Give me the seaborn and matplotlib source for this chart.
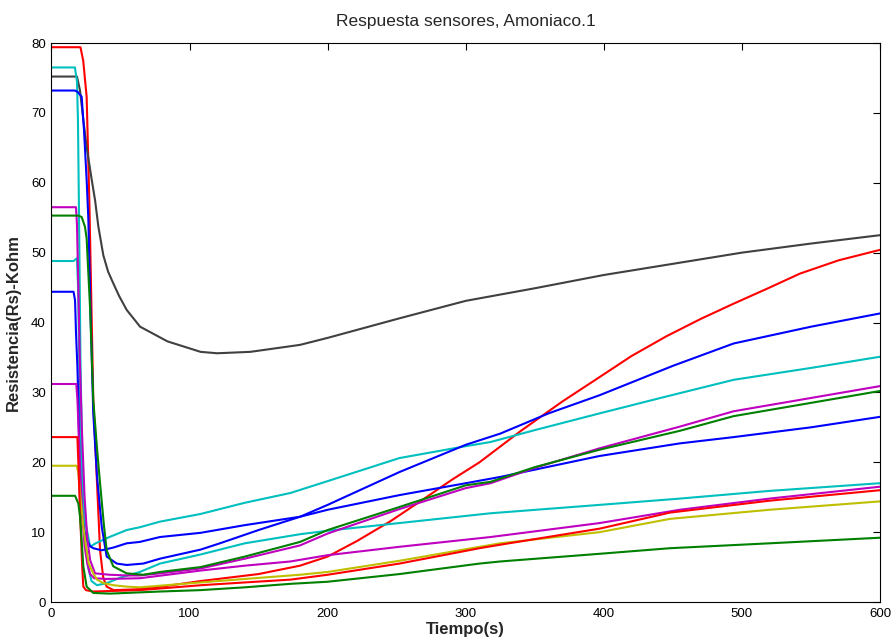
import matplotlib
matplotlib.use("Agg")
import matplotlib.pyplot as plt
import pandas as pd
import seaborn as sns

# ---------------- data ----------------
t_red_a = [0, 21, 23, 25.5, 27.5, 30.3, 35.2, 37.5, 40, 45, 60, 80, 108, 150, 180, 200, 221, 245, 267, 290,
           310, 340, 370, 397, 420, 445, 470, 494, 520, 542, 570, 600]
r_red_a = [79.4, 79.4, 77.5, 72.3, 57.0, 28.9, 7.4, 3.5, 2.2, 1.7, 1.8, 2.2, 3.0, 4.0, 5.2, 6.5, 8.7, 11.5, 14.4, 17.5,
           20.0, 24.5, 28.7, 32.2, 35.2, 38.0, 40.5, 42.7, 45.0, 47.0, 48.9, 50.4]

t_gray = [0, 18.5, 20.7, 23.1, 25.5, 29.2, 31.6, 34, 37.6, 41, 44.8, 49, 54.5, 64.2, 84, 108, 120, 144, 180, 200,
          252, 300, 350, 400, 450, 500, 550, 600]
r_gray = [75.2, 75.2, 73.2, 69.0, 65.1, 60.4, 57.5, 53.7, 49.6, 47.3, 45.6, 43.8, 41.8, 39.4, 37.3, 35.8, 35.6,
          35.8, 36.8, 37.8, 40.6, 43.1, 44.9, 46.8, 48.4, 50.0, 51.3, 52.5]

t_cyan_a = [0, 17, 18.5, 19.2, 20, 21, 22.5, 25, 28, 32, 42, 54.5, 64, 78.6, 108, 140, 173, 200, 252, 300, 318,
            350, 397, 443, 494, 550, 600]
r_cyan_a = [76.5, 76.5, 74.5, 69.0, 55.0, 35.0, 18.0, 11.0, 7.9, 8.4, 9.3, 10.3, 10.7, 11.5, 12.6, 14.2, 15.6,
            17.3, 20.6, 22.3, 22.9, 24.6, 27.0, 29.3, 31.8, 33.5, 35.1]

t_cyan_b = [0, 16, 18.5, 19.3, 20.5, 22, 24, 26.5, 29, 33, 40, 50, 64, 78.6, 108, 140, 180, 200, 252, 318, 397,
            455, 520, 600]
r_cyan_b = [48.8, 48.8, 49.2, 45.0, 30.0, 18.0, 10.0, 5.0, 3.0, 2.4, 2.7, 3.5, 4.3, 5.5, 6.8, 8.4, 9.7, 10.2,
            11.3, 12.7, 13.9, 14.8, 15.9, 17.0]

t_blue_a = [0, 17, 19, 21.9, 23.6, 25.5, 26.7, 28.5, 30.3, 33, 36.4, 40, 47.3, 54.5, 66.5, 78.6, 108, 122, 150,
            180, 200, 252, 300, 325, 360, 397, 450, 494, 550, 600]
r_blue_a = [73.2, 73.2, 73.0, 72.3, 67.5, 60.4, 55.0, 40.0, 27.0, 18.0, 10.8, 6.5, 5.5, 5.3, 5.5, 6.2, 7.5, 8.4,
            10.3, 12.2, 13.9, 18.6, 22.5, 24.1, 27.0, 29.6, 33.8, 37.0, 39.4, 41.3]

t_blue_b = [0, 16, 17.1, 17.8, 18.8, 19.5, 20.7, 22, 24, 25.5, 28, 30.3, 36.4, 45, 54.5, 64, 78.6, 108, 140,
            180, 200, 252, 300, 325, 397, 455, 494, 550, 600]
r_blue_b = [44.4, 44.4, 43.2, 38.5, 33.7, 28.9, 14.6, 12.5, 10.0, 8.9, 8.0, 7.7, 7.4, 7.8, 8.4, 8.6, 9.3, 9.9,
            11.0, 12.2, 13.2, 15.3, 17.0, 17.9, 20.9, 22.7, 23.6, 25.0, 26.5]

t_mag_a = [0, 17.8, 18.5, 19.5, 20.5, 22, 24, 26, 28, 31.6, 42, 55, 64, 78.6, 108, 140, 180, 200, 252, 300, 318,
           350, 397, 455, 494, 550, 600]
r_mag_a = [56.5, 56.5, 54.0, 45.0, 35.0, 25.0, 15.0, 9.0, 6.0, 4.1, 3.9, 3.8, 3.8, 4.1, 4.8, 6.2, 8.1, 9.8, 13.3,
           16.3, 17.0, 19.2, 22.0, 25.1, 27.3, 29.2, 30.9]

t_green_a = [0, 19.5, 21.9, 24.3, 25.5, 28, 30.3, 33, 35.2, 38, 40, 44.8, 54.5, 66.5, 78.6, 108, 140, 180, 200,
             252, 300, 318, 350, 397, 455, 494, 550, 600]
r_green_a = [55.3, 55.3, 55.1, 53.7, 52.0, 42.0, 28.9, 22.0, 17.0, 11.0, 7.4, 5.1, 4.1, 3.9, 4.3, 5.0, 6.5, 8.6,
             10.3, 13.6, 16.7, 17.2, 19.3, 21.8, 24.5, 26.6, 28.5, 30.2]

t_mag_b = [0, 18, 18.8, 19.8, 21, 22.5, 24, 26, 28, 31, 40, 64, 108, 140, 173, 200, 252, 318, 397, 455, 520, 600]
r_mag_b = [31.2, 31.2, 29.0, 24.0, 18.0, 12.0, 8.0, 5.5, 4.0, 3.4, 3.3, 3.4, 4.5, 5.2, 5.8, 6.7, 7.9, 9.3, 11.3,
           13.2, 14.8, 16.5]

t_yellow = [0, 18.3, 19.5, 21, 23, 25, 27, 30.3, 33, 37.6, 45, 54.5, 64, 108, 140, 180, 200, 252, 310, 325, 397,
            448, 520, 600]
r_yellow = [19.5, 19.5, 18.5, 15.0, 11.0, 8.0, 5.5, 4.1, 3.2, 2.7, 2.4, 2.2, 2.1, 2.8, 3.3, 3.9, 4.3, 5.9, 7.9,
            8.4, 10.0, 11.9, 13.2, 14.4]

t_red_b = [0, 18.8, 19.5, 20.5, 21.5, 22.3, 23.1, 25, 30, 64, 108, 140, 173, 200, 252, 310, 325, 397, 448, 520, 600]
r_red_b = [23.6, 23.6, 20.0, 14.0, 9.0, 5.0, 2.2, 1.7, 1.5, 1.7, 2.4, 2.8, 3.2, 3.9, 5.5, 7.7, 8.2, 10.5, 12.8,
           14.5, 16.0]

t_green_b = [0, 17.1, 19.5, 20.7, 22, 23.1, 25.5, 30.3, 42.4, 78.6, 108, 140, 173, 200, 252, 310, 325, 397, 448,
             520, 600]
r_green_b = [15.2, 15.2, 14.1, 12.2, 8.5, 5.1, 2.2, 1.3, 1.2, 1.5, 1.7, 2.1, 2.6, 2.9, 4.0, 5.5, 5.8, 6.9, 7.7,
             8.4, 9.2]

sensor_names = ["S1", "S2", "S3", "S4", "S5", "S6", "S7", "S8", "S9", "S10", "S11", "S12"]
sensor_colors = ["#ff0000", "#404040", "#00bfbf", "#00bfbf", "#0000ff", "#0000ff",
                 "#bf00bf", "#008000", "#bf00bf", "#bfbf00", "#ff0000", "#008000"]
sensor_t = [t_red_a, t_gray, t_cyan_a, t_cyan_b, t_blue_a, t_blue_b,
            t_mag_a, t_green_a, t_mag_b, t_yellow, t_red_b, t_green_b]
sensor_r = [r_red_a, r_gray, r_cyan_a, r_cyan_b, r_blue_a, r_blue_b,
            r_mag_a, r_green_a, r_mag_b, r_yellow, r_red_b, r_green_b]

title = "Respuesta sensores, Amoniaco.1"
xlabel = "Tiempo(s)"
ylabel = "Resistencia(Rs)-Kohm"
xticks = [0, 100, 200, 300, 400, 500, 600]
yticks = [0, 10, 20, 30, 40, 50, 60, 70, 80]

# ---------------- build long table ----------------
rows = []
for name, ts, rs in zip(sensor_names, sensor_t, sensor_r):
    for t, r in zip(ts, rs):
        rows.append((name, t, r))
df = pd.DataFrame(rows, columns=["sensor", "t", "R"])
palette = dict(zip(sensor_names, sensor_colors))

sns.set_theme(style="white")
plt.rcParams["font.family"] = ["Liberation Sans", "DejaVu Sans"]

fig = plt.figure(figsize=(8.96, 6.42), dpi=100)
fig.patch.set_facecolor("white")
ax = fig.add_axes([0.0574, 0.0623, 0.9248, 0.8707])

sns.lineplot(data=df, x="t", y="R", hue="sensor", hue_order=sensor_names, palette=palette,
             estimator=None, sort=False, legend=False, linewidth=1.5, ax=ax)

ax.set_xlim(0, 600)
ax.set_ylim(0, 80)
ax.set_xticks(xticks)
ax.set_yticks(yticks)
ax.tick_params(direction="in", top=True, right=True, length=5, width=0.8,
               labelsize=9.5, colors="black", pad=4)
for sp in ax.spines.values():
    sp.set_color("black")
    sp.set_linewidth(0.8)

ax.set_title(title, fontsize=12.5, pad=12)
ax.set_xlabel(xlabel, fontsize=12, fontweight="bold", labelpad=2)
ax.set_ylabel(ylabel, fontsize=12, fontweight="bold", labelpad=7)

fig.savefig("out.png", dpi=100, facecolor="white")
